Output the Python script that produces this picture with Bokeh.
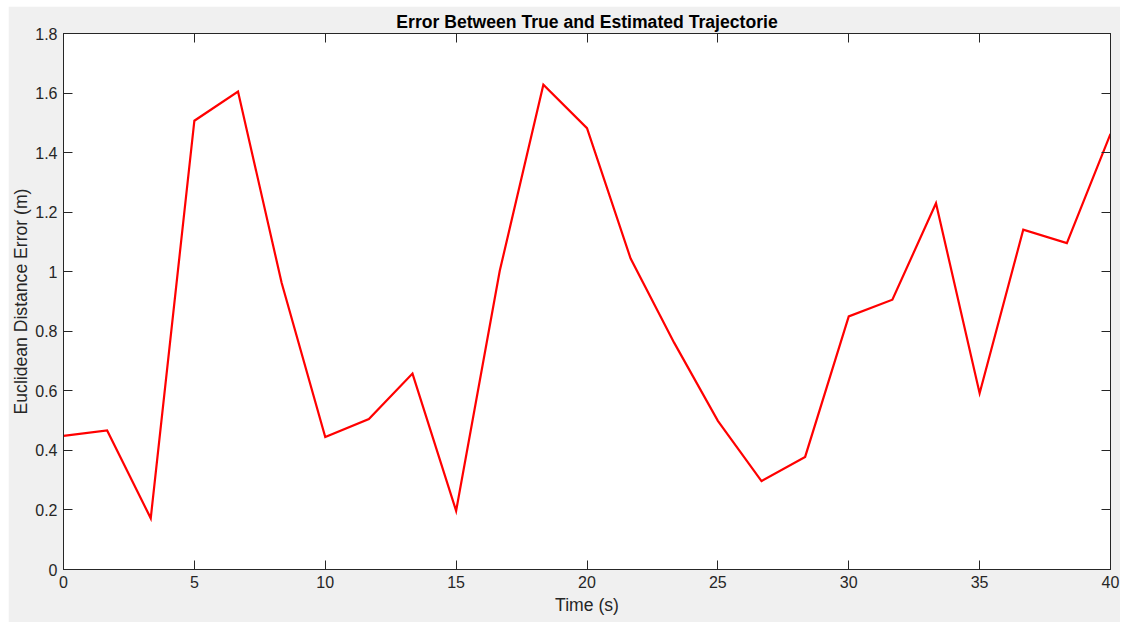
from bokeh.plotting import figure
from bokeh.models import (Range1d, LinearAxis, FixedTicker, CustomJSTickFormatter,
                          ColumnDataSource)
from bokeh.embed import file_html
from bokeh.resources import INLINE

# Sample times (s) and Euclidean distance error (m)
time_s = [0.0, 1.667, 3.333, 5.0, 6.667, 8.333, 10.0, 11.667, 13.333, 15.0,
          16.667, 18.333, 20.0, 21.667, 23.333, 25.0, 26.667, 28.333, 30.0,
          31.667, 33.333, 35.0, 36.667, 38.333, 40.0]
error_m = [0.449, 0.467, 0.172, 1.507, 1.605, 0.963, 0.445, 0.505, 0.658, 0.197,
           1.003, 1.628, 1.482, 1.044, 0.761, 0.499, 0.297, 0.378, 0.850,
           0.906, 1.230, 0.592, 1.141, 1.096, 1.463]

x_ticks = [0, 5, 10, 15, 20, 25, 30, 35, 40]
y_ticks = [0, 0.2, 0.4, 0.6, 0.8, 1.0, 1.2, 1.4, 1.6, 1.8]

FONT = "Liberation Sans"
INK = "#262626"
BG = "#f0f0f0"

src = ColumnDataSource(data=dict(t=time_s, e=error_m))

p = figure(width=1112, height=616, output_backend="svg", toolbar_location=None,
           x_range=Range1d(0, 40), y_range=Range1d(0, 1.8),
           x_axis_location=None, y_axis_location=None,
           min_border_left=50, min_border_right=10, min_border_top=27,
           min_border_bottom=53)
p.margin = (6, 0, 0, 8)
p.background_fill_color = "white"
p.border_fill_color = BG
p.outline_line_color = INK
p.xgrid.visible = False
p.ygrid.visible = False

p.title.text = "Error Between True and Estimated Trajectorie"
p.title.text_font = FONT
p.title.text_font_size = "17.6px"
p.title.text_font_style = "bold"
p.title.text_color = "black"
p.title.align = "center"
p.title.standoff = 4

num_fmt = CustomJSTickFormatter(code="return tick.toFixed(1).replace(/\\.0$/, '');")
blank_fmt = CustomJSTickFormatter(code="return '';")


def style_axis(ax, ticks, fmt, labelled):
    ax.ticker = FixedTicker(ticks=ticks)
    ax.formatter = fmt
    ax.axis_line_color = INK
    ax.major_tick_line_color = INK
    ax.major_tick_in = 9
    ax.major_tick_out = 0
    ax.minor_tick_line_color = None
    ax.major_label_text_font = FONT
    ax.major_label_text_font_size = "16px" if labelled else "0px"
    ax.major_label_text_color = INK
    ax.major_label_standoff = 6 if labelled else 0
    ax.axis_label_text_font = FONT
    ax.axis_label_text_font_size = "17.6px"
    ax.axis_label_text_font_style = "normal"
    ax.axis_label_text_color = INK


xb = LinearAxis(axis_label="Time (s)")
style_axis(xb, x_ticks, num_fmt, True)
xb.axis_label_standoff = 4
p.add_layout(xb, "below")

yl = LinearAxis(axis_label="Euclidean Distance Error (m)")
style_axis(yl, y_ticks, num_fmt, True)
yl.axis_label_standoff = 1
p.add_layout(yl, "left")

xt = LinearAxis()
style_axis(xt, x_ticks, blank_fmt, False)
p.add_layout(xt, "above")

yr = LinearAxis()
style_axis(yr, y_ticks, blank_fmt, False)
p.add_layout(yr, "right")

p.line("t", "e", source=src, line_color="#ff0000", line_width=2.2, line_join="miter")

open("out.html", "w").write(file_html(p, INLINE))
